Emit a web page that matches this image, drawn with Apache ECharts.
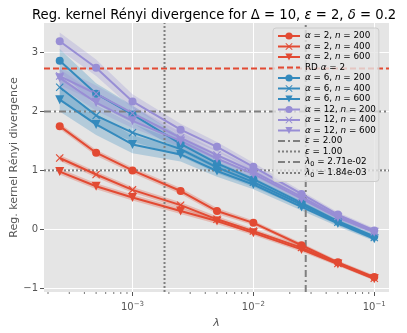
<!DOCTYPE html>
<html>
<head>
<meta charset="utf-8">
<script src="https://cdn.jsdelivr.net/npm/echarts@6/dist/echarts.min.js"></script>
<style>
  html, body { margin: 0; padding: 0; background: #fff; }
  #container { width: 407px; height: 333px; }
</style>
</head>
<body>
<div id="container"></div>
<script>
// lambda values (x axis, log scale)
const lambdas = [2.5e-4, 5e-4, 1e-3, 2.5e-3, 5e-3, 1e-2, 2.5e-2, 5e-2, 1e-1];

// alpha = 2
const a2n200 = [1.75, 1.30, 1.00, 0.65, 0.31, 0.11, -0.27, -0.56, -0.81];
const a2n400 = [1.21, 0.93, 0.67, 0.41, 0.17, -0.03, -0.31, -0.58, -0.83];
const a2n600 = [0.98, 0.73, 0.54, 0.31, 0.14, -0.06, -0.34, -0.59, -0.84];
// alpha = 6
const a6n200 = [2.86, 2.30, 1.95, 1.45, 1.12, 0.85, 0.45, 0.14, -0.12];
const a6n400 = [2.41, 1.93, 1.64, 1.36, 1.05, 0.80, 0.42, 0.12, -0.14];
const a6n600 = [2.20, 1.78, 1.44, 1.27, 0.99, 0.76, 0.38, 0.10, -0.16];
// alpha = 12
const a12n200 = [3.19, 2.74, 2.17, 1.69, 1.40, 1.06, 0.60, 0.25, -0.02];
const a12n400 = [2.60, 2.30, 1.97, 1.55, 1.26, 0.98, 0.55, 0.22, -0.04];
const a12n600 = [2.57, 2.15, 1.84, 1.50, 1.20, 0.94, 0.52, 0.20, -0.05];

// half widths of the shaded bands, per alpha
const band2 = [0.05, 0.05, 0.05, 0.05, 0.05, 0.04, 0.04, 0.03, 0.03];
const band6 = [0.20, 0.18, 0.15, 0.12, 0.10, 0.08, 0.06, 0.05, 0.04];
const band12 = [0.15, 0.14, 0.12, 0.10, 0.08, 0.07, 0.05, 0.04, 0.04];

// reference lines
const rdAlpha2 = 2.73;
const epsLevels = [2.0, 1.0];
const lambda0 = [2.71e-2, 1.84e-3];

const xTicks = [1e-3, 1e-2, 1e-1];
const yTicks = [-1, 0, 1, 2, 3];

const RED = '#E24A33', BLUE = '#348ABD', PURPLE = '#988ED5', GRAY = '#7f7f7f';
const FONT = 'DejaVu Sans';
const X_MIN = 1.853e-4, X_MAX = 0.1324, Y_MIN = -1.063, Y_MAX = 3.5;

const xSym = 'path://M1,0L5,4L9,0L10,1L6,5L10,9L9,10L5,6L1,10L0,9L4,5L0,1Z';
const markers = [
  { symbol: 'circle', rot: 0, size: 8 },
  { symbol: xSym, rot: 0, size: 8 },
  { symbol: 'triangle', rot: 180, size: 9 }
];

const groups = [
  { alpha: 2, color: RED, band: band2, rows: [a2n200, a2n400, a2n600] },
  { alpha: 6, color: BLUE, band: band6, rows: [a6n200, a6n400, a6n600] },
  { alpha: 12, color: PURPLE, band: band12, rows: [a12n200, a12n400, a12n600] }
];
const ns = [200, 400, 600];

function bandSeries(vals, half, color) {
  return {
    type: 'custom',
    silent: true,
    z: 1,
    data: lambdas.map((x, i) => [x, vals[i]]),
    encode: { x: 0, y: 1 },
    renderItem: function (params, api) {
      if (params.dataIndexInside !== 0) return null;
      const pts = [];
      lambdas.forEach((x, i) => pts.push(api.coord([x, vals[i] + half[i]])));
      for (let i = lambdas.length - 1; i >= 0; i--) pts.push(api.coord([lambdas[i], vals[i] - half[i]]));
      return { type: 'polygon', shape: { points: pts }, style: { fill: color, opacity: 0.28 } };
    }
  };
}

const series = [];
const legendNames = [];

// reference line drawn as a two-point line series spanning the axis
function refSeries(name, lineType, color, pts) {
  legendNames.push(name);
  return {
    name: name,
    type: 'line',
    data: pts,
    symbol: 'none',
    z: 2,
    silent: true,
    lineStyle: { color: color, width: 2, type: lineType },
    itemStyle: { color: color, opacity: 0 },
    emphasis: { disabled: true }
  };
}

groups.forEach((g, gi) => {
  g.rows.forEach((row, ri) => {
    series.push(bandSeries(row, g.band, g.color));
    const name = 'α = ' + g.alpha + ', n = ' + ns[ri];
    legendNames.push(name);
    series.push({
      name: name,
      type: 'line',
      z: 3,
      data: lambdas.map((x, i) => [x, row[i]]),
      symbol: markers[ri].symbol,
      symbolRotate: markers[ri].rot,
      symbolSize: markers[ri].size,
      showSymbol: true,
      lineStyle: { color: g.color, width: 2 },
      itemStyle: { color: g.color, opacity: 1 },
      emphasis: { disabled: true }
    });
  });
  if (gi === 0) {
    series.push(refSeries('RD α = 2', [6, 3], RED, [[X_MIN, rdAlpha2], [X_MAX, rdAlpha2]]));
  }
});

series.push(refSeries('ε = 2.00', [7, 3, 2, 3], GRAY, [[X_MIN, epsLevels[0]], [X_MAX, epsLevels[0]]]));
series.push(refSeries('ε = 1.00', [2, 2], GRAY, [[X_MIN, epsLevels[1]], [X_MAX, epsLevels[1]]]));
series.push(refSeries('λ0 = 2.71e-02', [7, 3, 2, 3], GRAY, [[lambda0[0], Y_MIN], [lambda0[0], Y_MAX]]));
series.push(refSeries('λ0 = 1.84e-03', [2, 2], GRAY, [[lambda0[1], Y_MIN], [lambda0[1], Y_MAX]]));

// minor ticks on the log axis
const minorTicks = [];
for (let k = -4; k <= -1; k++) {
  for (let m = 2; m <= 9; m++) {
    const v = m * Math.pow(10, k);
    if (v > X_MIN && v < X_MAX) minorTicks.push(v);
  }
}
series.push({
  type: 'custom',
  silent: true,
  data: minorTicks.map(v => [v, Y_MIN]),
  encode: { x: 0, y: 1 },
  renderItem: function (params, api) {
    const p = api.coord([api.value(0), Y_MIN]);
    return { type: 'line', shape: { x1: p[0], y1: p[1], x2: p[0], y2: p[1] + 2 }, style: { stroke: '#555', lineWidth: 0.8 } };
  }
});

// italic math symbols in legend labels
function fmtLegend(name) {
  const parts = [];
  const re = /(λ0|α|ε|n(?= =))/g;
  let last = 0, r;
  while ((r = re.exec(name)) !== null) {
    if (r.index > last) parts.push('{t|' + name.slice(last, r.index) + '}');
    if (r[0] === 'λ0') parts.push('{i|λ}{sub|0}');
    else parts.push('{i|' + r[0] + '}');
    last = r.index + r[0].length;
  }
  if (last < name.length) parts.push('{t|' + name.slice(last) + '}');
  return parts.join('');
}

const myChart = echarts.init(document.getElementById('container'), null, { renderer: 'canvas' });
const option = {
  animation: false,
  backgroundColor: '#ffffff',
  textStyle: { fontFamily: FONT },
  title: {
    text: 'Reg. kernel Rényi divergence for Δ = 10, {i|ε} = 2, {i|δ} = 0.2',
    left: 27,
    top: 4,
    textStyle: {
      fontFamily: FONT, fontSize: 13.2, fontWeight: 'normal', color: '#000',
      rich: { i: { fontFamily: FONT, fontSize: 13.2, fontStyle: 'italic', color: '#000' } }
    }
  },
  grid: { left: 44, right: 18, top: 23, bottom: 41, show: true, backgroundColor: '#E5E5E5', borderWidth: 0, outerBoundsMode: 'none', containLabel: false },
  legend: {
    data: legendNames,
    orient: 'vertical',
    left: 273,
    top: 28,
    padding: [3, 3, 3, 4],
    itemWidth: 22,
    itemHeight: 9,
    itemGap: 0.5,
    backgroundColor: 'rgba(229,229,229,0.8)',
    borderColor: '#cccccc',
    borderWidth: 1,
    borderRadius: 3,
    selectedMode: false,
    formatter: fmtLegend,
    textStyle: {
      fontFamily: FONT, fontSize: 8.8, lineHeight: 10, color: '#000',
      rich: {
        t: { fontFamily: FONT, fontSize: 8.8, color: '#000' },
        i: { fontFamily: FONT, fontSize: 8.8, fontStyle: 'italic', color: '#000' },
        sub: { fontFamily: FONT, fontSize: 6.5, color: '#000', padding: [4, 0, 0, 0] }
      }
    }
  },
  xAxis: {
    type: 'log',
    logBase: 10,
    min: X_MIN,
    max: X_MAX,
    name: 'λ',
    nameLocation: 'middle',
    nameGap: 26,
    nameMoveOverlap: false,
    nameTextStyle: { fontFamily: FONT, fontSize: 11, fontStyle: 'italic', color: '#555' },
    axisLine: { show: false, onZero: false },
    axisTick: { show: true, customValues: xTicks, length: 4, lineStyle: { color: '#555' } },
    axisLabel: {
      customValues: xTicks,
      margin: 9,
      color: '#555',
      fontFamily: FONT,
      fontSize: 10,
      formatter: function (v) {
        const e = Math.round(Math.log10(v));
        return '10{sup|' + (e < 0 ? '−' : '') + Math.abs(e) + '}';
      },
      rich: { sup: { fontFamily: FONT, fontSize: 7, color: '#555', padding: [0, 0, 6, 0] } }
    },
    splitLine: { show: true, lineStyle: { color: '#ffffff', width: 1 } }
  },
  yAxis: {
    type: 'value',
    min: Y_MIN,
    max: Y_MAX,
    name: 'Reg. kernel Rényi divergence',
    nameLocation: 'middle',
    nameGap: 24,
    nameMoveOverlap: false,
    nameTextStyle: { fontFamily: FONT, fontSize: 11, color: '#555' },
    axisLine: { show: false, onZero: false },
    axisTick: { show: true, customValues: yTicks, length: 4, lineStyle: { color: '#555' } },
    axisLabel: {
      customValues: yTicks,
      margin: 6,
      color: '#555',
      fontFamily: FONT,
      fontSize: 10,
      formatter: v => (v < 0 ? '−' + Math.abs(v) : String(v))
    },
    splitLine: { show: true, lineStyle: { color: '#ffffff', width: 1 } }
  },
  series: series
};
myChart.setOption(option);
</script>
</body>
</html>
